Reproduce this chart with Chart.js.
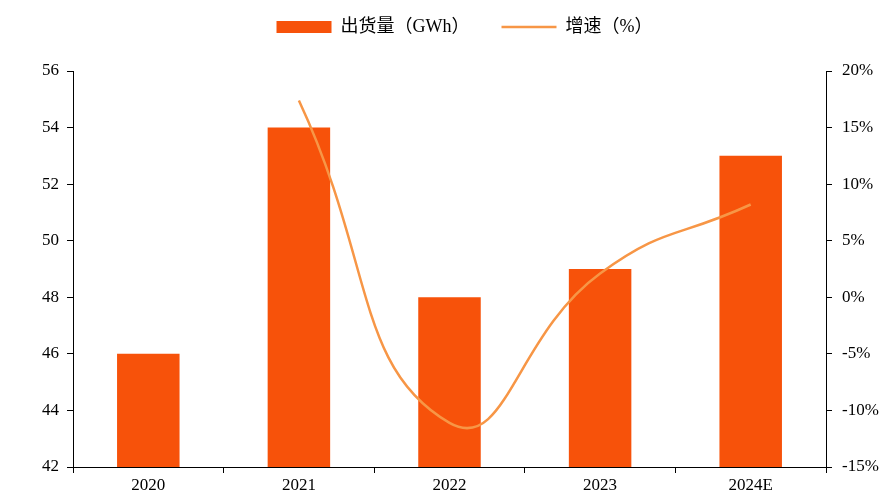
<!DOCTYPE html>
<html>
<head>
<meta charset="utf-8">
<script src="https://cdn.jsdelivr.net/npm/chart.js@4"></script>
<style>
    html, body { margin: 0; padding: 0; background: #fff; }
    #wrap { width: 883px; height: 497px; }
</style>
</head>
<body>
<div id="wrap"><canvas id="chart" width="883" height="497"></canvas></div>
<script>
// ============================= data

const years = ['2020', '2021', '2022', '2023', '2024E']
const shipments = [46, 54, 48, 49, 53]                 // GWh
const growth = [null, 17.4, -11.1, 2.1, 8.2]           // %

const BAR_COLOR = '#F7520A'
const LINE_COLOR = '#F79646'
const FONT = '"Liberation Serif", "Noto Sans CJK SC", serif'

// ============================= chart

const axisStyle = (pos) => ({
    position: pos,
    border: { color: '#000', width: 1 },
    grid: { drawOnChartArea: false, drawTicks: true, tickLength: 6, color: '#000' },
    ticks: { color: '#000', font: { family: FONT, size: 17 }, padding: 8 }
})

// legend reserves a fixed band above the plot and sits a bit right of centre
const legendBand = {
    id: 'legendBand',
    beforeInit: (chart) => {
        const legend = chart.legend
        const fit = legend.fit
        const draw = legend.draw
        legend.fit = function () {
            fit.call(this)
            this.height = 86
        }
        legend.draw = function () {
            this.ctx.save()
            this.ctx.translate(23, 1)
            draw.call(this)
            this.ctx.restore()
        }
    }
}

new Chart(document.getElementById('chart'), {
    plugins: [legendBand],
    data: {
        labels: years,
        datasets: [{
            type: 'line',
            label: '增速（%）',
            data: growth,
            yAxisID: 'y1',
            borderColor: LINE_COLOR,
            backgroundColor: LINE_COLOR,
            borderWidth: 2.5,
            pointRadius: 0,
            tension: 0.5,
            order: 0
        }, {
            type: 'bar',
            label: '出货量（GWh）',
            data: shipments,
            yAxisID: 'y',
            backgroundColor: BAR_COLOR,
            categoryPercentage: 1,
            barPercentage: 0.415,
            order: 1
        }]
    },
    options: {
        responsive: false,
        animation: false,
        layout: { padding: { top: -15, left: 0, right: 0, bottom: 0 } },
        plugins: {
            tooltip: { enabled: false },
            legend: {
                position: 'top',
                reverse: true,
                labels: {
                    color: '#000',
                    font: { family: FONT, size: 18 },
                    usePointStyle: true,
                    pointStyleWidth: 55,
                    boxHeight: 12,
                    padding: 32,
                    generateLabels: (chart) => Chart.defaults.plugins.legend.labels.generateLabels(chart)
                        .map(item => Object.assign(item, {
                            pointStyle: chart.data.datasets[item.datasetIndex].type == 'line' ? 'line' : 'rect'
                        }))
                }
            }
        },
        scales: {
            x: Object.assign(axisStyle('bottom'), {
                offset: true,
                grid: { offset: true, drawOnChartArea: false, drawTicks: true, tickLength: 6, color: '#000' },
                ticks: { color: '#000', font: { family: FONT, size: 17 }, padding: 2 },
                afterFit: (scale) => { scale.height = 30 }
            }),
            y: Object.assign(axisStyle('left'), {
                min: 42, max: 56,
                ticks: { color: '#000', font: { family: FONT, size: 17 }, padding: 8, stepSize: 2 },
                afterFit: (scale) => { scale.width = 73 }
            }),
            y1: Object.assign(axisStyle('right'), {
                min: -15, max: 20,
                ticks: {
                    color: '#000', font: { family: FONT, size: 17 }, padding: 10, stepSize: 5,
                    callback: (v) => v + '%'
                },
                afterFit: (scale) => { scale.width = 57 }
            })
        }
    }
})
</script>
</body>
</html>
